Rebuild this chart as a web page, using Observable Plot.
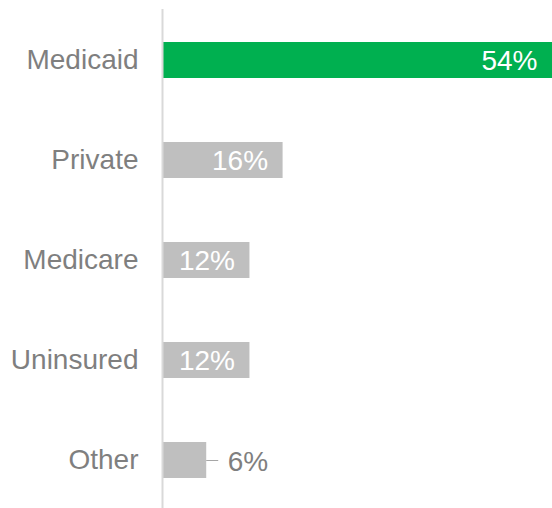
<!DOCTYPE html>
<html>
<head>
<meta charset="utf-8">
<script src="https://cdn.jsdelivr.net/npm/d3@7"></script>
<script src="https://cdn.jsdelivr.net/npm/@observablehq/plot@0.6"></script>
<style>
  html, body { margin: 0; padding: 0; background: #ffffff; overflow: hidden; }
  #chart svg { display: block; font-family: "Liberation Sans", Arial, sans-serif; }
</style>
</head>
<body>
<div id="chart"></div>
<script>
const categories = ["Medicaid", "Private", "Medicare", "Uninsured", "Other"];
const values = [54, 16.6, 12, 12, 6];
const valueLabels = ["54%", "16%", "12%", "12%", "6%"];
const outsideLabel = [false, false, false, false, true];
const highlight = "Medicaid";

const data = categories.map((c, i) => ({
  cat: c, value: values[i], label: valueLabels[i], outside: outsideLabel[i]
}));
const inside = data.filter(d => !d.outside);
const outside = data.filter(d => d.outside);
const leaderUnits = 12 / 7.2;

const chart = Plot.plot({
  width: 552,
  height: 512,
  marginLeft: 163,
  marginRight: 0,
  marginTop: 9,
  marginBottom: 0,
  style: { fontFamily: "Liberation Sans, Arial, sans-serif", background: "#ffffff" },
  x: { domain: [0, 54], axis: null },
  y: { domain: categories, paddingInner: 0.64, paddingOuter: 0.32, label: null },
  marks: [
    Plot.barX(data, {
      y: "cat", x: "value",
      fill: d => d.cat === highlight ? "#00B050" : "#BFBFBF"
    }),
    Plot.ruleX([0], { stroke: "#D9D9D9", strokeWidth: 2, dx: -1 }),
    Plot.axisY({
      tickSize: 0, tickPadding: 25, fontSize: 28, fill: "#7F7F7F", label: null
    }),
    Plot.text(inside, {
      y: "cat", x: "value", text: "label", textAnchor: "end", dx: -15, dy: 1,
      fill: "#FFFFFF", fontSize: 28
    }),
    Plot.ruleY(outside, {
      y: "cat", x1: "value", x2: d => d.value + leaderUnits,
      stroke: "#A6A6A6", strokeWidth: 1
    }),
    Plot.text(outside, {
      y: "cat", x: "value", text: "label", textAnchor: "start", dx: 21, dy: 2,
      fill: "#7F7F7F", fontSize: 28
    })
  ]
});
document.getElementById("chart").appendChild(chart);
</script>
</body>
</html>
